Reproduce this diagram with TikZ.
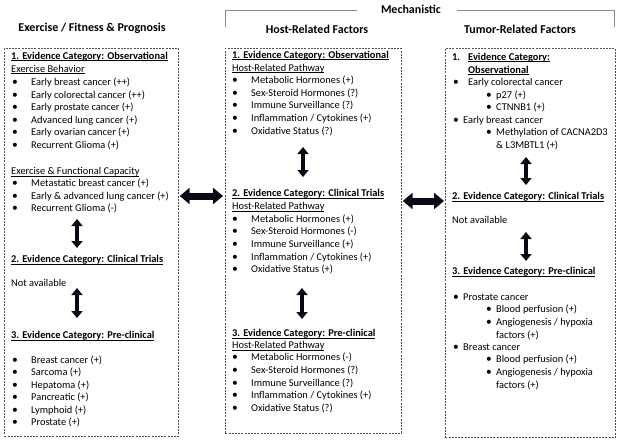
\documentclass[tikz,border=0pt]{standalone}
\usepackage{fontspec}
\setmainfont{Carlito}
\usetikzlibrary{arrows.meta}
\definecolor{arrowc}{HTML}{0A0A16}
\definecolor{boxc}{HTML}{505050}
\definecolor{brk}{HTML}{8A8A8A}
\newcommand{\ulx}[1]{\setbox0\hbox{#1}\rlap{\copy0}\rule[-1.6pt]{\wd0}{0.6pt}}
\tikzset{
  txt/.style={anchor=west, inner sep=0pt, font=\fontsize{10.4}{12.6}\selectfont, text height=7pt, text depth=2pt},
  bul/.style={txt, font=\fontsize{11.5}{12.6}\selectfont},
  hd/.style={txt, font=\fontsize{10.4}{12.6}\selectfont\bfseries},
  ttl/.style={inner sep=0pt, font=\fontsize{12}{14}\selectfont\bfseries},
  box/.style={draw=boxc, line width=0.7pt, dash pattern=on 2pt off 1.2pt, anchor=north west, inner sep=0pt},
  harrow/.style={arrowc, line width=7pt, {Triangle[length=10pt,width=16pt]}-{Triangle[length=10pt,width=16pt]}},
  varrow/.style={arrowc, line width=4.5pt, {Triangle[length=7pt,width=11pt]}-{Triangle[length=7pt,width=11pt]}},
  bracket/.style={draw=brk, line width=0.9pt}
}
\newcommand{\itm}[5]{%
  \node[bul] (#1b) at (#2,#4) {•};
  \node[txt] (#1) at (#3,#4) {#5};}
\begin{document}
\begin{tikzpicture}[x=1pt,y=-1pt]
\useasboundingbox (0,0) rectangle (620,441);

% boxes
\node[box, minimum width=174pt, minimum height=388pt] (L) at (4,48) {};
\node[box, minimum width=176pt, minimum height=385pt] (M) at (225,48) {};
\node[box, minimum width=170pt, minimum height=389pt] (R) at (445,48) {};

% titles
\node[ttl] (tL) at (92,28) {Exercise / Fitness \& Prognosis};
\node[ttl] (tM) at (317,29) {Host-Related Factors};
\node[ttl] (tR) at (520,29) {Tumor-Related Factors};
\node[ttl] (mech) at (411,9) {Mechanistic};
\coordinate (bl1) at (225,27);
\coordinate (bl2) at (357,10);
\coordinate (br1) at (457,10);
\coordinate (br2) at (614,27);
\draw[bracket] (bl1) |- (bl2);
\draw[bracket] (br1) -| (br2);

% ---------- left box ----------
\node[hd] (lh1) at (11,57) {\ulx{1. Evidence Category: Observational}};
\node[txt] (ls1) at (11,70) {\ulx{Exercise Behavior}};
\itm{l1}{12}{31}{83}{Early breast cancer (++)}
\itm{l2}{12}{31}{96}{Early colorectal cancer (++)}
\itm{l3}{12}{31}{108}{Early prostate cancer (+)}
\itm{l4}{12}{31}{121}{Advanced lung cancer (+)}
\itm{l5}{12}{31}{133}{Early ovarian cancer (+)}
\itm{l6}{12}{31}{146}{Recurrent Glioma (+)}
\node[txt] (ls2) at (11,172) {\ulx{Exercise \& Functional Capacity}};
\itm{l7}{12}{31}{184}{Metastatic breast cancer (+)}
\itm{l8}{12}{31}{197}{Early \& advanced lung cancer (+)}
\itm{l9}{12}{31}{209}{Recurrent Glioma (-)}
\node[hd] (lh2) at (11,260) {\ulx{2. Evidence Category: Clinical Trials}};
\node[txt] (lna) at (11,284) {Not available};
\node[hd] (lh3) at (11,336) {\ulx{3. Evidence Category: Pre-clinical}};
\itm{l10}{12}{31}{361}{Breast cancer (+)}
\itm{l11}{12}{31}{373}{Sarcoma (+)}
\itm{l12}{12}{31}{386}{Hepatoma (+)}
\itm{l13}{12}{31}{398}{Pancreatic (+)}
\itm{l14}{12}{31}{411}{Lymphoid (+)}
\itm{l15}{12}{31}{423}{Prostate (+)}

% ---------- middle box ----------
\node[hd] (mh1) at (232,56) {\ulx{1. Evidence Category: Observational}};
\node[txt] (ms1) at (232,69) {\ulx{Host-Related Pathway}};
\itm{m1}{232}{251}{81}{Metabolic Hormones (+)}
\itm{m2}{232}{251}{94}{Sex-Steroid Hormones (?)}
\itm{m3}{232}{251}{106}{Immune Surveillance (?)}
\itm{m4}{232}{251}{119}{Inflammation / Cytokines (+)}
\itm{m5}{232}{251}{132}{Oxidative Status (?)}
\node[hd] (mh2) at (232,194) {\ulx{2. Evidence Category: Clinical Trials}};
\node[txt] (ms2) at (232,207) {\ulx{Host-Related Pathway}};
\itm{m6}{232}{251}{220}{Metabolic Hormones (+)}
\itm{m7}{232}{251}{232}{Sex-Steroid Hormones (-)}
\itm{m8}{232}{251}{245}{Immune Surveillance (+)}
\itm{m9}{232}{251}{258}{Inflammation / Cytokines (+)}
\itm{m10}{232}{251}{270}{Oxidative Status (+)}
\node[hd] (mh3) at (232,334) {\ulx{3. Evidence Category: Pre-clinical}};
\node[txt] (ms3) at (232,346) {\ulx{Host-Related Pathway}};
\itm{m11}{232}{251}{358}{Metabolic Hormones (-)}
\itm{m12}{232}{251}{371}{Sex-Steroid Hormones (?)}
\itm{m13}{232}{251}{384}{Immune Surveillance (?)}
\itm{m14}{232}{251}{396}{Inflammation / Cytokines (+)}
\itm{m15}{232}{251}{409}{Oxidative Status (?)}

% ---------- right box ----------
\node[hd] (rn1) at (452,58) {1.};
\node[hd] (rh1) at (468,58) {\ulx{Evidence Category:}};
\node[hd] (rh1b) at (468,71) {\ulx{Observational}};
\itm{r1}{453}{468}{83}{Early colorectal cancer}
\itm{r2}{486}{496}{96}{p27 (+)}
\itm{r3}{486}{496}{108}{CTNNB1 (+)}
\itm{r4}{453}{463}{121}{Early breast cancer}
\itm{r5}{486}{496}{133}{Methylation of CACNA2D3}
\node[txt] (r5c) at (496,146) {\& L3MBTL1 (+)};
\node[hd] (rh2) at (452,197) {\ulx{2. Evidence Category: Clinical Trials}};
\node[txt] (rna) at (452,221) {Not available};
\node[hd] (rh3) at (452,272) {\ulx{3. Evidence Category: Pre-clinical}};
\itm{r6}{453}{463}{298}{Prostate cancer}
\itm{r7}{486}{496}{310}{Blood perfusion (+)}
\itm{r8}{486}{496}{323}{Angiogenesis / hypoxia}
\node[txt] (r8c) at (496,336) {factors (+)};
\itm{r9}{453}{463}{348}{Breast cancer}
\itm{r10}{486}{496}{360}{Blood perfusion (+)}
\itm{r11}{486}{496}{373}{Angiogenesis / hypoxia}
\node[txt] (r11c) at (496,386) {factors (+)};

% ---------- arrows ----------
\draw[harrow] ([xshift=1pt]L.east |- 0,196) -- ([xshift=-2pt]M.west |- 0,196);
\draw[harrow] ([xshift=1pt]M.east |- 0,201) -- ([xshift=-1pt]R.west |- 0,201);

\coordinate (la1) at (77,219); \coordinate (la2) at (77,248);
\coordinate (la3) at (77,288); \coordinate (la4) at (77,318);
\draw[varrow] (la1) -- (la2);
\draw[varrow] (la3) -- (la4);
\coordinate (ma1) at (303,147); \coordinate (ma2) at (303,177);
\coordinate (ma3) at (302,288); \coordinate (ma4) at (302,319);
\draw[varrow] (ma1) -- (ma2);
\draw[varrow] (ma3) -- (ma4);
\coordinate (ra1) at (526,157); \coordinate (ra2) at (526,185);
\coordinate (ra3) at (526,232); \coordinate (ra4) at (526,261);
\draw[varrow] (ra1) -- (ra2);
\draw[varrow] (ra3) -- (ra4);
\end{tikzpicture}
\end{document}
